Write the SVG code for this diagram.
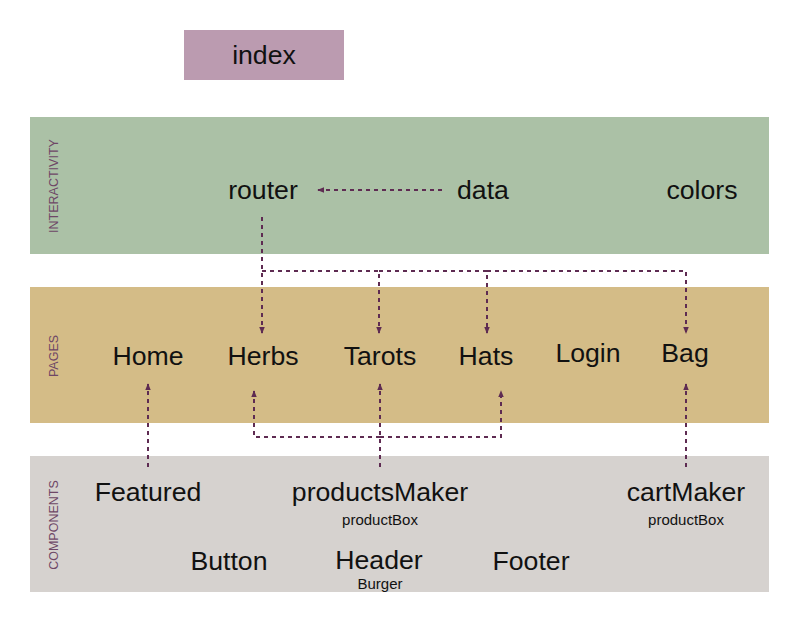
<svg xmlns="http://www.w3.org/2000/svg" width="800" height="630" viewBox="0 0 800 630">
<defs>
<marker id="arr" viewBox="0 0 8 8" refX="7" refY="4" markerWidth="7" markerHeight="7" markerUnits="userSpaceOnUse" orient="auto">
<path d="M0,0.8 L8,4 L0,7.2 Z" fill="#5e2b52"/>
</marker>
<style>
.band{stroke:none}
.main{font-family:"Liberation Sans",Arial,sans-serif;font-size:26.67px;fill:#111;text-anchor:middle}
.sub{font-family:"Liberation Sans",Arial,sans-serif;font-size:15px;fill:#111;text-anchor:middle}
.lab{font-family:"Liberation Sans",Arial,sans-serif;font-size:12.5px;fill:#6e4766;text-anchor:middle}
.con{fill:none;stroke:#5e2b52;stroke-width:2;stroke-dasharray:4 4}
</style>
</defs>
<rect width="800" height="630" fill="#fff"/>
<g id="layers">
<rect class="band" x="30" y="117" width="739" height="137" fill="#abc1a6"/>
<rect class="band" x="30" y="287" width="739" height="136" fill="#d4bc87"/>
<rect class="band" x="30" y="456" width="739" height="136" fill="#d6d2cf"/>
<text class="lab" transform="translate(58,186) rotate(-90)">INTERACTIVITY</text>
<text class="lab" transform="translate(58,356) rotate(-90)">PAGES</text>
<text class="lab" transform="translate(58,525) rotate(-90)">COMPONENTS</text>
</g>
<g id="index"><rect x="184" y="30" width="160" height="50" fill="#bb9bb0"/><text class="main" x="264" y="64">index</text></g>
<g id="router"><text class="main" x="263" y="199">router</text></g>
<g id="data"><text class="main" x="483" y="199">data</text></g>
<g id="colors"><text class="main" x="702" y="199">colors</text></g>
<g id="home"><text class="main" x="148" y="365">Home</text></g>
<g id="herbs"><text class="main" x="263" y="365">Herbs</text></g>
<g id="tarots"><text class="main" x="380" y="365">Tarots</text></g>
<g id="hats"><text class="main" x="486" y="365">Hats</text></g>
<g id="login"><text class="main" x="588" y="362">Login</text></g>
<g id="bag"><text class="main" x="685" y="362">Bag</text></g>
<g id="featured"><text class="main" x="148" y="501">Featured</text></g>
<g id="productsMaker"><text class="main" x="380" y="501">productsMaker</text><text class="sub" x="380" y="525">productBox</text></g>
<g id="cartMaker"><text class="main" x="686" y="501">cartMaker</text><text class="sub" x="686" y="525">productBox</text></g>
<g id="button"><text class="main" x="229" y="570">Button</text></g>
<g id="header"><text class="main" x="379" y="569">Header</text><text class="sub" x="380" y="588.5">Burger</text></g>
<g id="footer"><text class="main" x="531" y="570">Footer</text></g>
<g id="connectors">
<path class="con" d="M442 190 H318" marker-end="url(#arr)"/>
<path class="con" d="M262 217 V333" marker-end="url(#arr)"/>
<path class="con" d="M262 271 H379 V333" marker-end="url(#arr)"/>
<path class="con" d="M379 271 H487 V333" marker-end="url(#arr)"/>
<path class="con" d="M487 271 H686 V333" marker-end="url(#arr)"/>
<path class="con" d="M148 467 V384" marker-end="url(#arr)"/>
<path class="con" d="M380 467 V384" marker-end="url(#arr)"/>
<path class="con" d="M380 437 H254 V391" marker-end="url(#arr)"/>
<path class="con" d="M380 437 H501 V391" marker-end="url(#arr)"/>
<path class="con" d="M686 467 V384" marker-end="url(#arr)"/>
</g>
</svg>
